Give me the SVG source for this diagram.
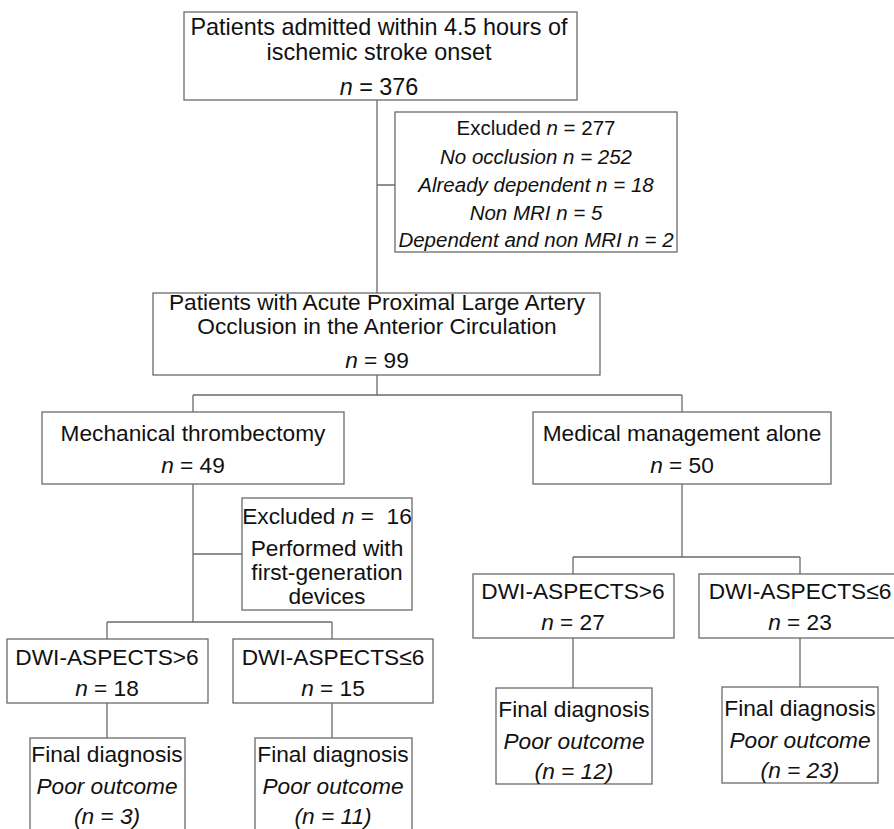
<svg xmlns="http://www.w3.org/2000/svg" width="894" height="829" viewBox="0 0 894 829">
<style>
.box{fill:#fff;stroke:#6b6b6b;stroke-width:1.3}
.ln{stroke:#6b6b6b;stroke-width:1.3;fill:none}
text{font-family:"Liberation Sans",Arial,sans-serif;font-size:22.7px;fill:#111;text-anchor:middle}
.lg{font-size:23.4px}
.sm{font-size:20.5px}
.i{font-style:italic}
</style>
<rect width="894" height="829" fill="#fff"/>
<g id="connectors">
<path class="ln" d="M377 100V293M377 185H395"/>
<path class="ln" d="M377 375V395M193 395H682M193 395V412M682 395V412"/>
<path class="ln" d="M193 484V622M193 554H242M107 622H332M107 622V639M332 622V639"/>
<path class="ln" d="M107 703V738M332 703V738"/>
<path class="ln" d="M682 484V557M573 557H800M573 557V574M800 557V574"/>
<path class="ln" d="M573 638V688M800 638V687"/>
</g>
<g id="n-admitted">
<rect class="box" x="184" y="12" width="393" height="88"/>
<text class="lg" x="379" y="35">Patients admitted within 4.5 hours of</text>
<text class="lg" x="379" y="60">ischemic stroke onset</text>
<text class="lg" x="379" y="95"><tspan class="i">n</tspan> = 376</text>
</g>
<g id="n-excluded1">
<rect class="box" x="395" y="112" width="282" height="140"/>
<text class="sm" x="536" y="135">Excluded <tspan class="i">n</tspan> = 277</text>
<text class="sm i" x="536" y="164">No occlusion n = 252</text>
<text class="sm i" x="536" y="192">Already dependent n = 18</text>
<text class="sm i" x="536" y="220">Non MRI n = 5</text>
<text class="sm i" x="536" y="247">Dependent and non MRI n = 2</text>
</g>
<g id="n-lao">
<rect class="box" x="153" y="293" width="447" height="82"/>
<text x="377" y="310">Patients with Acute Proximal Large Artery</text>
<text x="377" y="334">Occlusion in the Anterior Circulation</text>
<text x="377" y="368"><tspan class="i">n</tspan> = 99</text>
</g>
<g id="n-mt">
<rect class="box" x="42" y="412" width="302" height="72"/>
<text x="193" y="441">Mechanical thrombectomy</text>
<text x="193" y="473"><tspan class="i">n</tspan> = 49</text>
</g>
<g id="n-mm">
<rect class="box" x="533" y="412" width="298" height="72"/>
<text x="682" y="441">Medical management alone</text>
<text x="682" y="473"><tspan class="i">n</tspan> = 50</text>
</g>
<g id="n-excluded2">
<rect class="box" x="242" y="498" width="170" height="112"/>
<text x="327" y="524">Excluded <tspan class="i">n</tspan> =&#160; 16</text>
<text x="327" y="556">Performed with</text>
<text x="327" y="580">first-generation</text>
<text x="327" y="604">devices</text>
</g>
<g id="n-mt-hi">
<rect class="box" x="7" y="639" width="201" height="64"/>
<text x="107" y="665">DWI-ASPECTS&gt;6</text>
<text x="107" y="696"><tspan class="i">n</tspan> = 18</text>
</g>
<g id="n-mt-lo">
<rect class="box" x="233" y="639" width="200" height="64"/>
<text x="333" y="665">DWI-ASPECTS≤6</text>
<text x="333" y="696"><tspan class="i">n</tspan> = 15</text>
</g>
<g id="n-mt-hi-out">
<rect class="box" x="30" y="738" width="155" height="100"/>
<text x="107" y="762">Final diagnosis</text>
<text class="i" x="107" y="794">Poor outcome</text>
<text class="i" x="107" y="824">(n = 3)</text>
</g>
<g id="n-mt-lo-out">
<rect class="box" x="255" y="738" width="157" height="100"/>
<text x="333" y="762">Final diagnosis</text>
<text class="i" x="333" y="794">Poor outcome</text>
<text class="i" x="333" y="824">(n = 11)</text>
</g>
<g id="n-mm-hi">
<rect class="box" x="473" y="574" width="201" height="64"/>
<text x="573" y="599">DWI-ASPECTS&gt;6</text>
<text x="573" y="630"><tspan class="i">n</tspan> = 27</text>
</g>
<g id="n-mm-lo">
<rect class="box" x="699" y="574" width="200" height="64"/>
<text x="800" y="599">DWI-ASPECTS≤6</text>
<text x="800" y="630"><tspan class="i">n</tspan> = 23</text>
</g>
<g id="n-mm-hi-out">
<rect class="box" x="496" y="688" width="156" height="96"/>
<text x="574" y="717">Final diagnosis</text>
<text class="i" x="574" y="749">Poor outcome</text>
<text class="i" x="574" y="779">(n = 12)</text>
</g>
<g id="n-mm-lo-out">
<rect class="box" x="722" y="687" width="156" height="96"/>
<text x="800" y="716">Final diagnosis</text>
<text class="i" x="800" y="748">Poor outcome</text>
<text class="i" x="800" y="778">(n = 23)</text>
</g>
</svg>
